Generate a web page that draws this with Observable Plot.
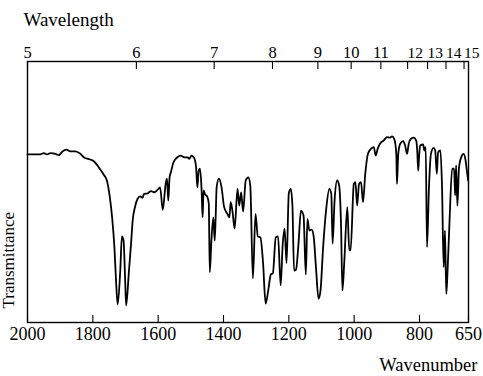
<!DOCTYPE html>
<html><head><meta charset="utf-8">
<script src="https://cdn.jsdelivr.net/npm/d3@7"></script>
<script src="https://cdn.jsdelivr.net/npm/@observablehq/plot@0.6"></script>
<style>
html,body{margin:0;padding:0;background:#fff} svg{display:block}
</style>
</head><body><div id="chart"></div>
<script>
const wavenumber = [2000,1961,1950,1940,1930,1914,1904,1894,1881,1869,1853,1838,1826,1812,1797,1782,1767,1757,1748,1741,1734,1729,1724,1716,1711,1706,1701,1698,1690,1683,1678,1671,1663,1655,1648,1643,1632,1622,1612,1602,1594,1586,1577,1573,1569,1565,1561,1553,1541,1531,1520,1510,1505,1498,1490,1484,1480,1476,1472,1467,1464,1461,1457,1449,1445,1442,1437,1431,1427,1424,1421,1414,1406,1398,1388,1382,1378,1372,1366,1357,1352,1346,1340,1332,1324,1318,1310,1302,1295,1287,1279,1271,1263,1255,1249,1240,1233,1225,1219,1213,1207,1200,1194,1189,1184,1178,1170,1163,1155,1148,1143,1137,1130,1124,1117,1109,1103,1095,1085,1076,1070,1066,1060,1052,1046,1040,1036,1030,1021,1015,1011,1001,996,991,985,979,973,966,958,948,940,934,928,920,910,899,891,884,877,871,869,865,859,850,844,838,833,826,818,810,807,804,801,798,789,785,781,777,771,765,757,752,747,743,736,731,726,722,718,714,708,700,694,691,688,684,679,670,665,659,655,651];
const transmittance = [64.4,64.4,64.9,64.4,64.9,64.6,64.1,65.4,66.2,65.6,65.6,64.6,63.1,62.6,61.8,59.5,56.7,54.4,48.0,40.3,28.9,16.1,6.9,19.9,33.0,31.4,16.1,6.5,18.7,30.2,39.1,44.2,47.4,48.3,47.8,49.3,49.5,50.3,49.9,50.8,51.8,43.2,53.1,55.1,46.7,55.7,57.6,61.4,63.3,63.9,63.3,63.3,62.7,63.9,63.1,59.5,51.8,58.2,58.9,50.6,40.3,50.6,49.3,48.0,45.5,19.3,31.4,40.3,31.4,40.3,51.8,55.1,51.8,44.2,41.6,40.3,46.1,42.1,36.0,51.2,44.8,49.8,42.5,54.4,55.6,52.5,16.9,41.6,33.0,32.6,23.0,7.2,12.3,18.4,18.8,32.6,33.0,14.2,29.5,35.9,22.8,49.6,51.2,44.8,19.9,20.3,31.0,42.9,41.0,18.4,39.7,35.2,35.6,33.0,21.2,9.1,12.3,28.9,44.2,51.2,49.3,30.2,46.7,54.4,52.5,36.5,12.3,23.8,44.2,27.6,27.6,53.1,53.8,44.8,53.1,53.8,46.1,57.0,64.6,66.6,67.2,64.0,66.6,68.7,69.7,71.0,70.8,71.3,70.2,64.6,53.1,64.6,68.5,69.5,67.8,64.6,68.5,70.4,70.8,69.7,65.9,58.2,64.0,67.8,68.2,65.9,67.2,28.9,51.8,64.6,66.9,65.9,57.0,65.2,65.9,51.8,21.2,35.2,11.0,19.9,39.1,58.9,58.9,48.7,60.2,44.8,59.5,64.0,64.6,62.1,58.2,54.4];
const wavenumberTicks = [2000,1800,1600,1400,1200,1000,800,650];
const wavelengthTicksWide = [5,6,7,8,9];
const wavelengthTicksMid = [10,11];
const wavelengthTick12 = [12];
const wavelengthTick13 = [13];
const wavelengthTick14 = [14];
const wavelengthTick15 = [15];
const topTitle = "Wavelength";
const xTitle = "Wavenumber";
const yTitle = "Transmittance";

const data = wavenumber.map((w, i) => ({w, t: transmittance[i]}));
const font = "'Liberation Serif', 'Times New Roman', serif";
const toWn = l => 10000 / l;
const fmtL = d => String(Math.round(10000 / d));
const topAxis = (ticks, extra) => Plot.axisX(ticks.map(toWn), {anchor: "top", tickSize: -7, tickPadding: 11, fontSize: 16.5, label: null, tickFormat: fmtL, strokeWidth: 1.1, ...extra});

const chart = Plot.plot({
  width: 483, height: 376,
  marginLeft: 27, marginRight: 15, marginTop: 61, marginBottom: 54,
  style: {fontFamily: font, background: "#fff", color: "#000", overflow: "visible"},
  x: {domain: [2000, 650]},
  y: {domain: [0, 100], axis: null},
  marks: [
    Plot.axisX(wavenumberTicks, {anchor: "bottom", tickSize: -7, tickPadding: 12, fontSize: 18, label: null, tickFormat: d => String(d), strokeWidth: 1.1}),
    topAxis(wavelengthTicksWide, {}),
    topAxis(wavelengthTicksMid, {dx: -3}),
    topAxis(wavelengthTick12, {textAnchor: "start", dx: -1, fontSize: 15.5}),
    topAxis(wavelengthTick13, {textAnchor: "start", dx: -2, fontSize: 15.5}),
    topAxis(wavelengthTick14, {textAnchor: "start", dx: -1.5, fontSize: 15.5}),
    topAxis(wavelengthTick15, {textAnchor: "start", dx: 1, fontSize: 15.5}),
    Plot.frame({stroke: "#000", strokeWidth: 1.4}),
    Plot.line(data, {x: "w", y: "t", stroke: "#000", strokeWidth: 1.8, curve: "monotone-x"}),
    Plot.text([topTitle], {frameAnchor: "top-left", dx: -4, dy: -42, textAnchor: "start", lineAnchor: "middle", fontSize: 19, fill: "#000"}),
    Plot.text([xTitle], {frameAnchor: "bottom-right", dx: 9, dy: 43, textAnchor: "end", lineAnchor: "middle", fontSize: 18.5, fill: "#000"}),
    Plot.text([yTitle], {frameAnchor: "bottom-left", dx: -18.5, dy: -14, rotate: -90, textAnchor: "start", lineAnchor: "middle", fontSize: 17, fill: "#000"})
  ]
});
document.getElementById("chart").appendChild(chart);
</script>
</body></html>
